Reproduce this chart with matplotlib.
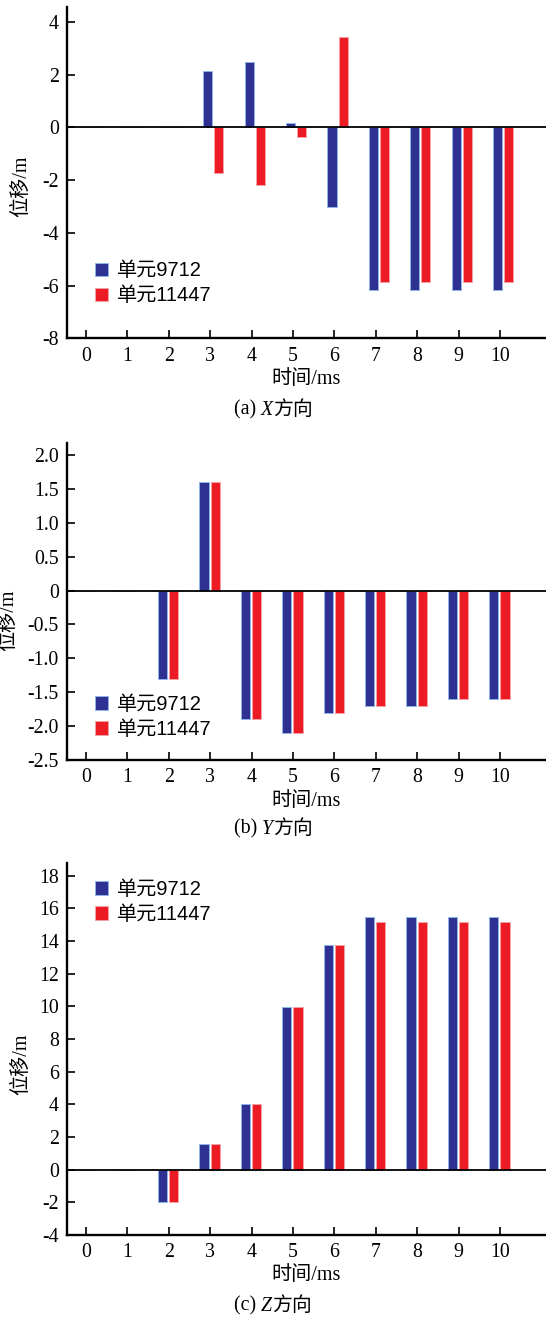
import matplotlib
matplotlib.use("Agg")
import matplotlib.pyplot as plt
from matplotlib.offsetbox import TextArea, HPacker, AnnotationBbox

plt.rcParams['font.family'] = ['Liberation Serif', 'Noto Sans CJK SC']
plt.rcParams['axes.unicode_minus'] = False

# ---------------- data ----------------
times = [0, 1, 2, 3, 4, 5, 6, 7, 8, 9, 10]
series_names = ["单元9712", "单元11447"]

x_e9712 = [0, 0, 0, 2.13, 2.5, 0.15, -3.02, -6.18, -6.18, -6.18, -6.18]
x_e11447 = [0, 0, 0, -1.72, -2.17, -0.35, 3.43, -5.87, -5.87, -5.87, -5.87]

y_e9712 = [0, 0, -1.3, 1.6, -1.9, -2.1, -1.8, -1.7, -1.7, -1.6, -1.6]
y_e11447 = [0, 0, -1.3, 1.6, -1.9, -2.1, -1.8, -1.7, -1.7, -1.6, -1.6]

z_e9712 = [0, 0, -2.0, 1.6, 4.05, 9.95, 13.75, 15.5, 15.5, 15.5, 15.5]
z_e11447 = [0, 0, -2.0, 1.6, 4.05, 9.95, 13.75, 15.15, 15.15, 15.15, 15.15]

x_yticks = [-8, -6, -4, -2, 0, 2, 4]
x_yticklabels = ["-8", "-6", "-4", "-2", "0", "2", "4"]
y_yticks = [-2.5, -2.0, -1.5, -1.0, -0.5, 0, 0.5, 1.0, 1.5, 2.0]
y_yticklabels = ["-2.5", "-2.0", "-1.5", "-1.0", "-0.5", "0", "0.5", "1.0", "1.5", "2.0"]
z_yticks = [-4, -2, 0, 2, 4, 6, 8, 10, 12, 14, 16, 18]
z_yticklabels = ["-4", "-2", "0", "2", "4", "6", "8", "10", "12", "14", "16", "18"]

xlabel = "时间/ms"
ylabel = "位移/m"
captions = [("(a) ", "X", "方向"), ("(b) ", "Y", "方向"), ("(c) ", "Z", "方向")]

# ---------------- style ----------------
BLUE = "#2E3192"
RED = "#ED1C24"
BLUE_EDGE = "#8DB4E8"
RED_EDGE = "#F5A0A8"
FS = 14.3
LFS = 14.5

W, H = 546, 1321
fig = plt.figure(figsize=(W / 100, H / 100), dpi=100)

def rect(top, bottom, left=67, right=546):
    return [left / W, 1 - bottom / H, (right - left) / W, (bottom - top) / H]

panels = [
    dict(rect=rect(7, 338.3), s1=x_e9712, s2=x_e11447, ylim=(-8, 4.57),
         yticks=x_yticks, ylabels=x_yticklabels, off=(-0.06, 0.21),
         leg=(0.058, 0.232), cap_y=410, ylab=(-0.095, 0.46)),
    dict(rect=rect(442.7, 760), s1=y_e9712, s2=y_e11447, ylim=(-2.5, 2.18),
         yticks=y_yticks, ylabels=y_yticklabels, off=(-0.15, 0.12),
         leg=(0.058, 0.205), cap_y=829, ylab=(-0.122, 0.44)),
    dict(rect=rect(863.3, 1235), s1=z_e9712, s2=z_e11447, ylim=(-4, 18.76),
         yticks=z_yticks, ylabels=z_yticklabels, off=(-0.15, 0.12),
         leg=(0.058, 0.955), cap_y=1306, ylab=(-0.095, 0.46)),
]

bw = 0.22
for p, cap in zip(panels, captions):
    ax = fig.add_axes(p["rect"])
    xs = times
    ax.bar([x + p["off"][0] for x in xs], p["s1"], width=bw, color=BLUE,
           edgecolor=BLUE_EDGE, linewidth=0.7, label=series_names[0], zorder=2)
    ax.bar([x + p["off"][1] for x in xs], p["s2"], width=bw, color=RED,
           edgecolor=RED_EDGE, linewidth=0.7, label=series_names[1], zorder=2)
    ax.axhline(0, color="black", linewidth=1.3, zorder=3)
    ax.set_xlim(-0.46, 11.11)
    ax.set_ylim(*p["ylim"])
    ax.set_xticks(times)
    ax.set_xticklabels([str(t) for t in times], fontsize=FS)
    ax.set_yticks(p["yticks"])
    ax.set_yticklabels(p["ylabels"], fontsize=FS)
    for s in ("top", "right"):
        ax.spines[s].set_visible(False)
    for s in ("left", "bottom"):
        ax.spines[s].set_linewidth(1.7)
    ax.tick_params(axis="both", direction="in", length=6, width=1.2, pad=6)
    ax.set_xlabel(xlabel, fontsize=LFS, labelpad=3)
    ax.set_ylabel(ylabel, fontsize=LFS, va="center")
    ax.yaxis.set_label_coords(*p["ylab"])
    ax.legend(loc="upper left", bbox_to_anchor=p["leg"], frameon=False,
              prop=dict(family=['Liberation Sans', 'Noto Sans CJK SC'], size=LFS),
              handlelength=0.65, handleheight=0.65,
              handletextpad=0.45, borderpad=0, borderaxespad=0,
              labelspacing=0.3)
    parts = [TextArea(cap[0], textprops=dict(fontsize=FS)),
             TextArea(cap[1], textprops=dict(fontsize=FS, style="italic")),
             TextArea(cap[2], textprops=dict(fontsize=FS))]
    box = HPacker(children=parts, align="baseline", pad=0, sep=0)
    ab = AnnotationBbox(box, (273 / W, 1 - p["cap_y"] / H), xycoords="figure fraction",
                        frameon=False, box_alignment=(0.5, 0.5))
    fig.add_artist(ab)

fig.savefig("out.png", dpi=100)
